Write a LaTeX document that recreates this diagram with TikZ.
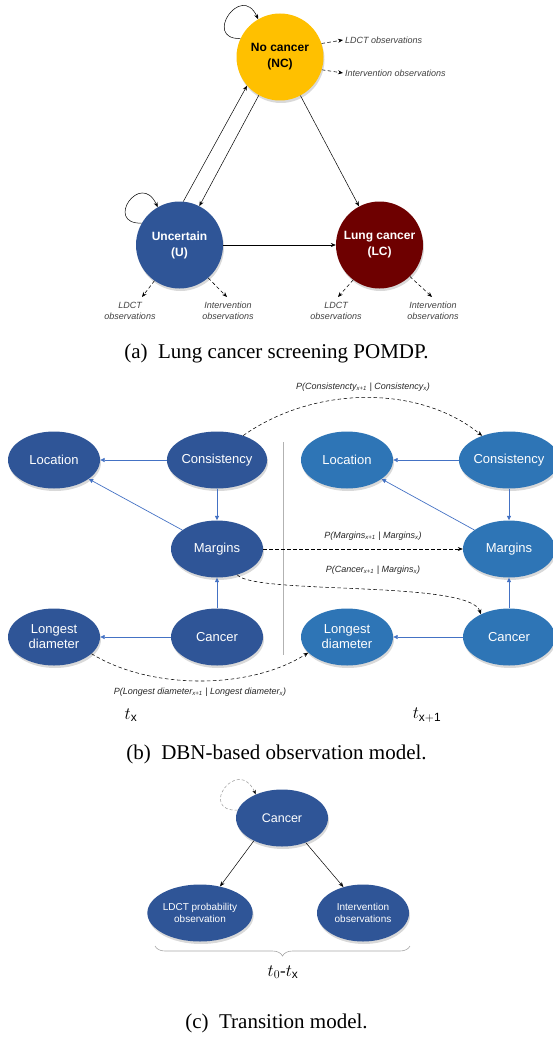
\documentclass[tikz,border=0pt]{standalone}
\usepackage{fontspec}
\setmainfont{Liberation Serif}
\setsansfont{Liberation Sans}
\usetikzlibrary{shadows,arrows.meta,decorations.pathreplacing,shapes.geometric}
\definecolor{dblue}{HTML}{2F5597}
\definecolor{lblue}{HTML}{2E75B6}
\definecolor{ncyel}{HTML}{FFC000}
\definecolor{lcred}{HTML}{6E0000}
\definecolor{arrblue}{HTML}{4472C4}
\definecolor{labgray}{HTML}{404040}
\begin{document}
\begin{tikzpicture}[x=1pt,y=-1pt,
  shad/.style={drop shadow={shadow xshift=1pt,shadow yshift=-2.5pt,opacity=0.3}},
  state/.style={circle, minimum size=87pt, inner sep=0pt, align=center, shad,
    font=\sffamily\bfseries\fontsize{12}{16}\selectfont},
  var/.style={ellipse, minimum width=92pt, minimum height=57pt, inner sep=0pt, align=center,
    fill=dblue, text=white, shad, font=\sffamily\fontsize{13}{15}\selectfont},
  varR/.style={var, fill=lblue},
  obs/.style={font=\sffamily\itshape\fontsize{9}{11}\selectfont, text=labgray, align=center, inner sep=2pt},
  plab/.style={font=\sffamily\itshape\fontsize{9}{11}\selectfont, text=black!85, inner sep=1pt},
  arr/.style={-{Stealth[length=5pt,width=4pt]}, line width=0.5pt, black},
  dsh/.style={-{Stealth[length=5pt,width=4pt]}, line width=0.55pt, black, dash pattern=on 3.5pt off 2.5pt},
  barr/.style={-{Triangle[length=4.5pt,width=4pt]}, line width=0.7pt, arrblue},
  captext/.style={font=\rmfamily\fontsize{21}{24}\selectfont, inner sep=0pt},
  tlab/.style={font=\fontsize{17}{20}\selectfont, inner sep=0pt}]
\useasboundingbox (0,0) rectangle (553,1038);

% ---------------- (a) POMDP ----------------
\node[state, fill=ncyel, text=black] (nc) at (280,57) {No cancer\\(NC)};
\node[state, fill=dblue, text=white] (u) at (179.5,245) {Uncertain\\(U)};
\node[state, fill=lcred, text=white] (lc) at (379.5,245) {Lung cancer\\(LC)};

\draw[arr] (nc.155) .. controls +(-38,1) and +(-17,-37) .. (nc.120);
\draw[arr] (u.150) .. controls +(-38,1) and +(-17,-37) .. (u.120);
\draw[arr] (u.85) -- (nc.221);
\draw[arr] (nc.241) -- (u.63);
\draw[arr] (nc) -- (lc);
\draw[arr] (u) -- (lc);

\node[obs, anchor=west] (nco1) at (343,40) {LDCT observations};
\node[obs, anchor=west] (nco2) at (343,73) {Intervention observations};
\draw[dsh] (nc.18) -- (nco1.west);
\draw[dsh] (nc.-17) -- (nco2.west);

\node[obs] (uo1) at (130,311) {LDCT\\observations};
\node[obs] (uo2) at (228,311) {Intervention\\observations};
\node[obs] (lco1) at (336,311) {LDCT\\observations};
\node[obs] (lco2) at (433,311) {Intervention\\observations};
\coordinate (uo1t) at (142,297);
\coordinate (uo2t) at (227,297);
\coordinate (lco1t) at (338,297);
\coordinate (lco2t) at (432,297);
\draw[dsh] (u.-125) -- (uo1t);
\draw[dsh] (u.-49) -- (uo2t);
\draw[dsh] (lc.-127) -- (lco1t);
\draw[dsh] (lc.-46) -- (lco2t);

\node[captext] (capa) at (276.5,353) {(a)\hspace{0.5em}Lung cancer screening POMDP.};

% ---------------- (b) DBN ----------------
\node[var] (loc1) at (54,460) {Location};
\node[var] (con1) at (217,460) {Consistency};
\node[var] (mar1) at (217,549) {Margins};
\node[var] (can1) at (217,637) {Cancer};
\node[var] (ld1) at (54,637) {Longest\\diameter};
\node[varR] (loc2) at (347,460) {Location};
\node[varR] (con2) at (509,460) {Consistency};
\node[varR] (mar2) at (509,549) {Margins};
\node[varR] (can2) at (509,637) {Cancer};
\node[varR] (ld2) at (347,637) {Longest\\diameter};

\draw[barr] (con1) -- (loc1);
\draw[barr] (con1) -- (mar1);
\draw[barr] (mar1) -- (loc1);
\draw[barr] (can1) -- (mar1);
\draw[barr] (can1) -- (ld1);
\draw[barr] (con2) -- (loc2);
\draw[barr] (con2) -- (mar2);
\draw[barr] (mar2) -- (loc2);
\draw[barr] (can2) -- (mar2);
\draw[barr] (can2) -- (ld2);

\draw[black!30, line width=0.6pt] (283,442) -- (283,655);

\draw[dsh] (con1.43) .. controls (315,385) and (420,385) .. (con2.138);
\draw[dsh] (mar1) -- (mar2);
\draw[dsh] (mar1.-52) .. controls (255,595) and (470,580) .. (can2.141);
\draw[dsh] (ld1.-24) .. controls (150,690) and (250,690) .. (ld2.202);

\node[plab] (p1) at (363,387) {P(Consistencty\textsubscript{x+1} | Consistency\textsubscript{x})};
\node[plab] (p2) at (373,536) {P(Margins\textsubscript{x+1} | Margins\textsubscript{x})};
\node[plab] (p3) at (373,570) {P(Cancer\textsubscript{x+1} | Margins\textsubscript{x})};
\node[plab] (p4) at (200,692) {P(Longest diameter\textsubscript{x+1} | Longest diameter\textsubscript{x})};

\node[tlab] (tx) at (131,715) {$t_{\mathsf{x}}$};
\node[tlab] (tx1) at (427,715) {$t_{\mathsf{x+1}}$};

\node[captext] (capb) at (276.5,754) {(b)\hspace{0.5em}DBN-based observation model.};

% ---------------- (c) Transition ----------------
\node[var, font=\sffamily\fontsize{12.5}{15}\selectfont] (cc) at (282,818) {Cancer};
\node[var, font=\sffamily\fontsize{10}{12}\selectfont] (cl) at (200,913) {LDCT probability\\observation};
\node[var, font=\sffamily\fontsize{10}{12}\selectfont] (ci) at (363,913) {Intervention\\observations};
\draw[arr] (cc.219) -- (cl.53);
\draw[arr] (cc.-46) -- (ci.127);
\draw[-{Stealth[length=4.5pt,width=3.5pt,color=black]}, line width=0.5pt, black!40, dash pattern=on 3pt off 2pt]
  (cc.170) .. controls +(-40,1) and +(-18,-39) .. (cc.138);

\draw[decorate, decoration={brace, mirror, amplitude=10pt}, black!35, line width=0.6pt] (155,946) -- (410,946);
\node[tlab] (t0) at (283,972) {$t_{0}$-$t_{\mathsf{x}}$};

\node[captext] (capc) at (276.5,1023) {(c)\hspace{0.5em}Transition model.};
\end{tikzpicture}
\end{document}
